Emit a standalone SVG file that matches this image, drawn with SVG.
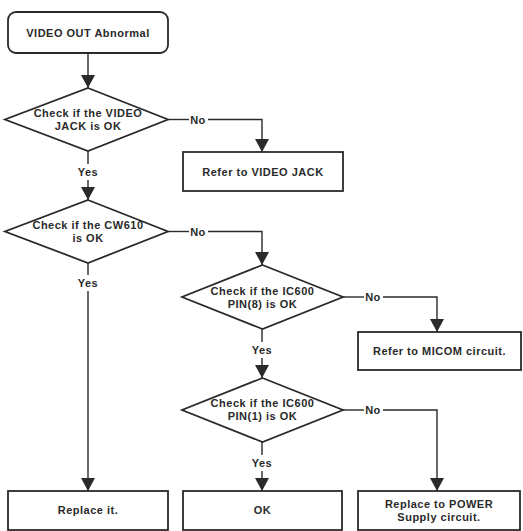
<svg xmlns="http://www.w3.org/2000/svg" width="523" height="531" viewBox="0 0 523 531">
<style>
.shape{fill:#fff;stroke:#2a2a2a;stroke-width:1.8}
.line{fill:none;stroke:#2a2a2a;stroke-width:1.4}
text{font-family:"Liberation Sans",Arial,sans-serif;font-weight:bold;font-size:11px;fill:#2a2a2a;text-anchor:middle;letter-spacing:0.5px}
</style>
<defs>
<marker id="arr" markerUnits="userSpaceOnUse" markerWidth="14" markerHeight="15" refX="13" refY="7" orient="auto" viewBox="0 0 14 15">
<path d="M0,0 L13,7 L0,14 z" fill="#2a2a2a"/>
</marker>
</defs>
<rect width="523" height="531" fill="#fff"/>
<g id="connectors">
<path class="line" d="M88,53 V88" marker-end="url(#arr)"/>
<path class="line" d="M168,119.5 H189"/>
<path class="line" d="M208,119.5 H262 V152" marker-end="url(#arr)"/>
<path class="line" d="M88,151 V164"/>
<path class="line" d="M88,180 V200" marker-end="url(#arr)"/>
<path class="line" d="M168,231.5 H189"/>
<path class="line" d="M208,231.5 H262 V265" marker-end="url(#arr)"/>
<path class="line" d="M88,263 V275"/>
<path class="line" d="M88,291 V491" marker-end="url(#arr)"/>
<path class="line" d="M343,297 H364"/>
<path class="line" d="M383,297 H437 V332" marker-end="url(#arr)"/>
<path class="line" d="M262,329 V342"/>
<path class="line" d="M262,358 V378" marker-end="url(#arr)"/>
<path class="line" d="M343,410 H364"/>
<path class="line" d="M383,410 H437 V491" marker-end="url(#arr)"/>
<path class="line" d="M262,442 V455"/>
<path class="line" d="M262,471 V491" marker-end="url(#arr)"/>
<text x="198" y="123.5">No</text>
<text x="88" y="176">Yes</text>
<text x="198" y="235.5">No</text>
<text x="88" y="287">Yes</text>
<text x="373" y="301">No</text>
<text x="262" y="354">Yes</text>
<text x="373" y="414">No</text>
<text x="262" y="467">Yes</text>
</g>
<g id="start">
<rect class="shape" x="8" y="12" width="160" height="41" rx="8"/>
<text x="88" y="36.5">VIDEO OUT Abnormal</text>
</g>
<g id="check-jack">
<polygon class="shape" points="88,88 168,119.5 88,151 5,119.5"/>
<text x="88" y="117">Check if the VIDEO</text>
<text x="88" y="130">JACK is OK</text>
</g>
<g id="refer-jack">
<rect class="shape" x="183" y="152" width="160" height="39"/>
<text x="263" y="175.5">Refer to VIDEO JACK</text>
</g>
<g id="check-cw610">
<polygon class="shape" points="88,200 168,231.5 88,263 5,231.5"/>
<text x="88" y="229">Check if the CW610</text>
<text x="88" y="242">is OK</text>
</g>
<g id="check-pin8">
<polygon class="shape" points="262.5,265 343,297 262.5,329 182,297"/>
<text x="262.5" y="295">Check if the IC600</text>
<text x="262.5" y="307.5">PIN(8) is OK</text>
</g>
<g id="refer-micom">
<rect class="shape" x="358" y="332" width="163" height="38"/>
<text x="439.5" y="355">Refer to MICOM circuit.</text>
</g>
<g id="check-pin1">
<polygon class="shape" points="262.5,378 343,410 262.5,442 182,410"/>
<text x="262.5" y="407">Check if the IC600</text>
<text x="262.5" y="419.5">PIN(1) is OK</text>
</g>
<g id="replace-it">
<rect class="shape" x="8" y="491" width="160" height="39"/>
<text x="88" y="514">Replace it.</text>
</g>
<g id="ok">
<rect class="shape" x="183" y="491" width="159" height="39"/>
<text x="262.5" y="514">OK</text>
</g>
<g id="replace-power">
<rect class="shape" x="358" y="491" width="162" height="39"/>
<text x="439" y="508">Replace to POWER</text>
<text x="439" y="520.5">Supply circuit.</text>
</g>
</svg>
